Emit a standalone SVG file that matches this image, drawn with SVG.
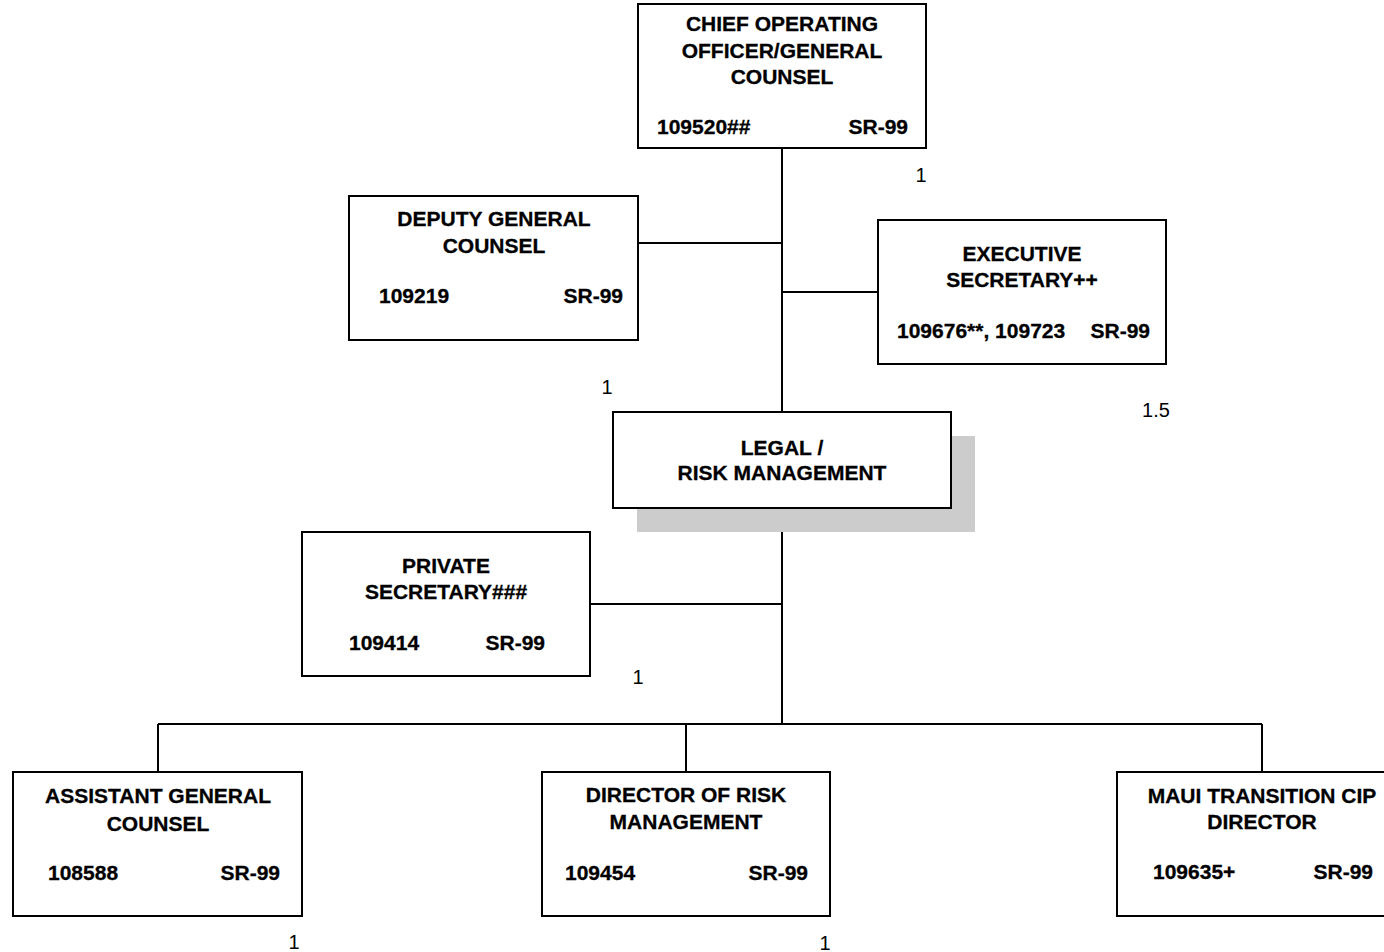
<svg xmlns="http://www.w3.org/2000/svg" width="1384" height="952" viewBox="0 0 1384 952">
<style>
.box{fill:#ffffff;stroke:#000000;stroke-width:2}
.shadow{fill:#cccccc;stroke:none}
.t{font-family:"Liberation Sans",Arial,sans-serif;font-weight:bold;font-size:21px;fill:#000000;stroke:#000000;stroke-width:0.3}
.c{text-anchor:middle}
.e{text-anchor:end}
.n{font-family:"Liberation Sans",Arial,sans-serif;font-size:20px;fill:#000000;text-anchor:middle}
.ln{stroke:#000000;stroke-width:2;fill:none}
</style>
<rect width="1384" height="952" fill="#ffffff"/>
<g id="connectors">
<line class="ln" x1="782" y1="148" x2="782" y2="412"/>
<line class="ln" x1="638" y1="243" x2="782" y2="243"/>
<line class="ln" x1="782" y1="292" x2="878" y2="292"/>
<line class="ln" x1="782" y1="508" x2="782" y2="724"/>
<line class="ln" x1="590" y1="604" x2="782" y2="604"/>
<line class="ln" x1="158" y1="724" x2="1262" y2="724"/>
<line class="ln" x1="158" y1="724" x2="158" y2="772"/>
<line class="ln" x1="686" y1="724" x2="686" y2="772"/>
<line class="ln" x1="1262" y1="724" x2="1262" y2="772"/>
</g>
<g id="coo">
<rect class="box" x="638" y="4" width="288" height="144"/>
<text class="t c" x="782" y="31">CHIEF OPERATING</text>
<text class="t c" x="782" y="58">OFFICER/GENERAL</text>
<text class="t c" x="782" y="84">COUNSEL</text>
<text class="t" x="657" y="134">109520##</text>
<text class="t e" x="908" y="134">SR-99</text>
</g>
<g id="deputy">
<rect class="box" x="349" y="196" width="289" height="144"/>
<text class="t c" x="494" y="226">DEPUTY GENERAL</text>
<text class="t c" x="494" y="253">COUNSEL</text>
<text class="t" x="379" y="303">109219</text>
<text class="t e" x="623" y="303">SR-99</text>
</g>
<g id="exec">
<rect class="box" x="878" y="220" width="288" height="144"/>
<text class="t c" x="1022" y="261">EXECUTIVE</text>
<text class="t c" x="1022" y="287">SECRETARY++</text>
<text class="t" x="897" y="338">109676**, 109723</text>
<text class="t e" x="1150" y="338">SR-99</text>
</g>
<g id="legal">
<rect class="shadow" x="637" y="436" width="338" height="96"/>
<rect class="box" x="613" y="412" width="338" height="96"/>
<text class="t c" x="782" y="455">LEGAL /</text>
<text class="t c" x="782" y="480">RISK MANAGEMENT</text>
</g>
<g id="private">
<rect class="box" x="302" y="532" width="288" height="144"/>
<text class="t c" x="446" y="573">PRIVATE</text>
<text class="t c" x="446" y="599">SECRETARY###</text>
<text class="t" x="349" y="650">109414</text>
<text class="t e" x="545" y="650">SR-99</text>
</g>
<g id="assistant">
<rect class="box" x="13" y="772" width="289" height="144"/>
<text class="t c" x="158" y="803">ASSISTANT GENERAL</text>
<text class="t c" x="158" y="831">COUNSEL</text>
<text class="t" x="48" y="880">108588</text>
<text class="t e" x="280" y="880">SR-99</text>
</g>
<g id="director">
<rect class="box" x="542" y="772" width="288" height="144"/>
<text class="t c" x="686" y="802">DIRECTOR OF RISK</text>
<text class="t c" x="686" y="829">MANAGEMENT</text>
<text class="t" x="565" y="880">109454</text>
<text class="t e" x="808" y="880">SR-99</text>
</g>
<g id="maui">
<rect class="box" x="1117" y="772" width="290" height="144"/>
<text class="t c" x="1262" y="803">MAUI TRANSITION CIP</text>
<text class="t c" x="1262" y="829">DIRECTOR</text>
<text class="t" x="1153" y="879">109635+</text>
<text class="t e" x="1373" y="879">SR-99</text>
</g>
<g id="counts">
<text class="n" x="921" y="182">1</text>
<text class="n" x="607" y="394">1</text>
<text class="n" x="1156" y="417">1.5</text>
<text class="n" x="638" y="684">1</text>
<text class="n" x="294" y="949">1</text>
<text class="n" x="825" y="950">1</text>
</g>
</svg>
